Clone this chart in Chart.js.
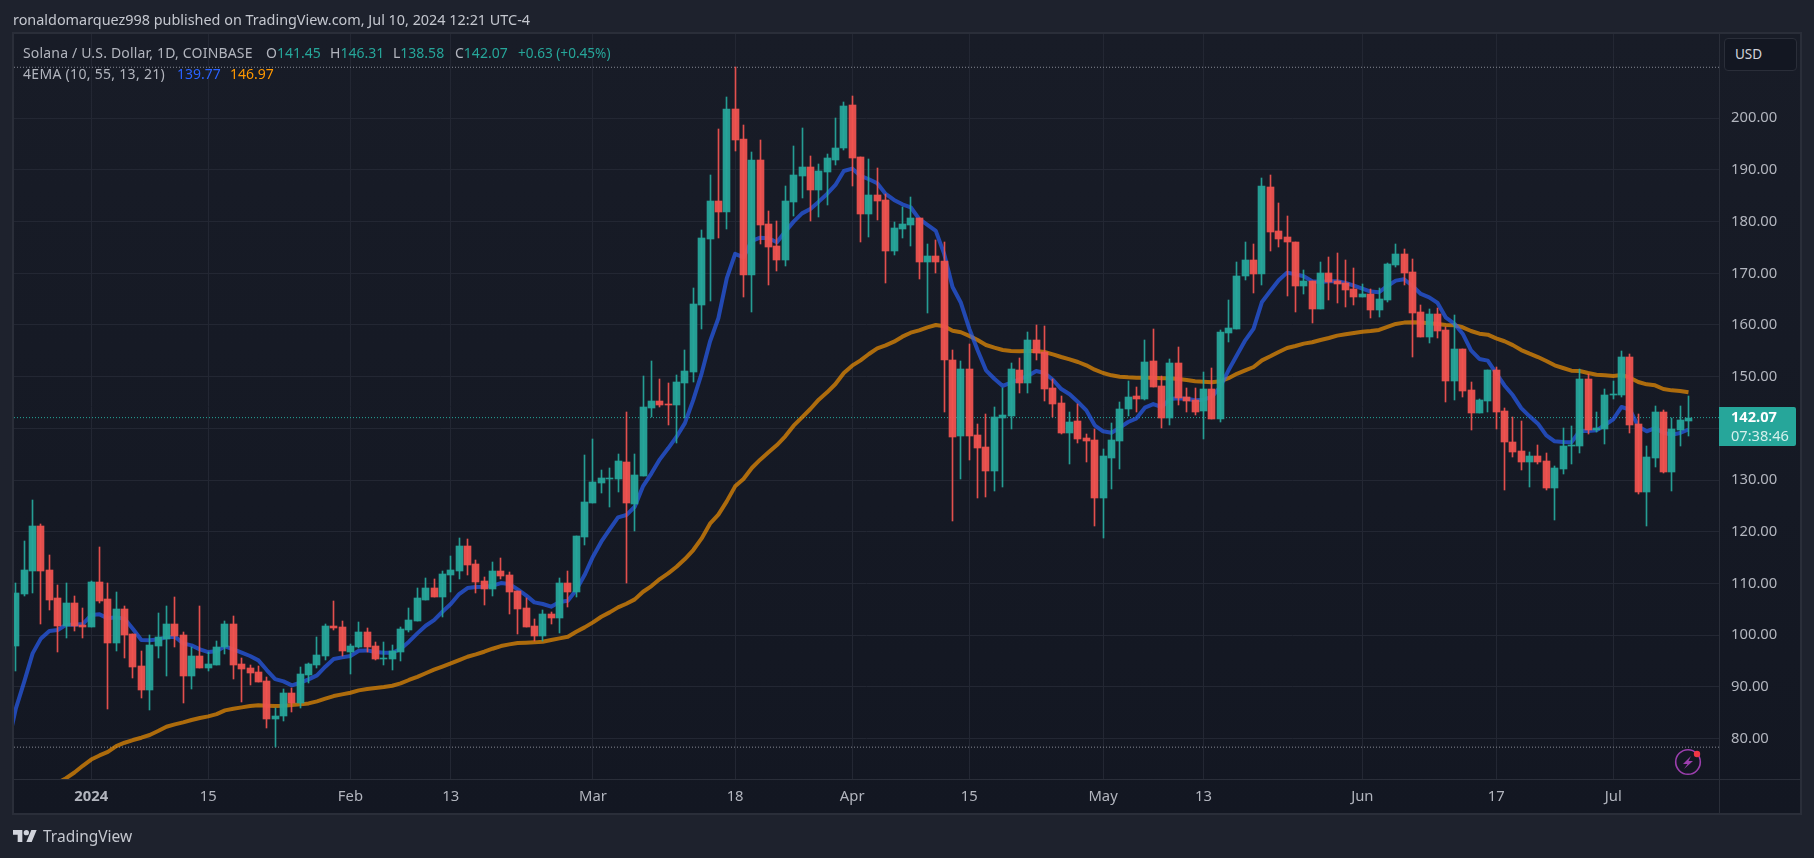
<!DOCTYPE html>
<html>
<head>
<meta charset="utf-8">
<title>Solana / U.S. Dollar</title>
<script src="https://cdn.jsdelivr.net/npm/chart.js@4"></script>
<style>
  html, body { margin: 0; padding: 0; width: 1814px; height: 858px; overflow: hidden; background: #1e222d; }
  body { position: relative; font-family: "Noto Sans", sans-serif; color: #b2b5be; }
  .pane { position: absolute; left: 12px; top: 32px; width: 1786px; height: 779px; border: 2px solid #2a2e39;
          background: linear-gradient(#181c27, #131722); }
  .sep-v { position: absolute; left: 1719px; top: 34px; width: 1px; height: 779px; background: #2a2e39; }
  .sep-h { position: absolute; left: 14px; top: 779px; width: 1786px; height: 1px; background: #2a2e39; }
  canvas { position: absolute; left: 0; top: 0; }
  .txt { position: absolute; white-space: nowrap; line-height: 18px; font-size: 13.5px; }
  .legend { font-size: 14px; }
  .up { color: #26a69a; }
  #published { left: 13px; top: 11px; color: #c4c7cf; font-size: 14.4px; }
  #usd { position: absolute; left: 1724px; top: 38px; width: 71px; height: 31px; border: 1px solid #2a2e39; border-radius: 4px;
         background: #131722; color: #d1d4dc; font-size: 13.5px; line-height: 31px; text-indent: 10px; }
  #price { position: absolute; left: 1719px; top: 407px; width: 77px; height: 39px; background: #26a69a; border-radius: 0 2px 2px 0;
           color: #fff; font-size: 14.6px; line-height: 18.7px; text-indent: 12px; }
  #price b { display: block; }
  #price span { display: block; color: #d4efec; }
  #logo { position: absolute; left: 13px; top: 830px; }
  #brand { left: 43px; top: 827px; font-size: 15.5px; color: #c4c7cf; }
  #bolt { position: absolute; left: 1672px; top: 746px; }
</style>
</head>
<body>
<div class="pane"></div>
<div class="sep-v"></div>
<div class="sep-h"></div>
<canvas id="chart" width="1814" height="858"></canvas>

<div class="txt" id="published">ronaldomarquez998 published on TradingView.com, Jul 10, 2024 12:21 UTC-4</div>
<div class="txt legend" style="left:23px;top:44px;letter-spacing:.18px">Solana / U.S. Dollar, 1D, COINBASE</div>
<div class="txt legend" style="left:266px;top:44px">O<span class="up">141.45</span></div>
<div class="txt legend" style="left:330px;top:44px">H<span class="up">146.31</span></div>
<div class="txt legend" style="left:393px;top:44px">L<span class="up">138.58</span></div>
<div class="txt legend" style="left:455px;top:44px">C<span class="up">142.07</span></div>
<div class="txt up" style="left:518px;top:44px;font-size:13.6px">+0.63 (+0.45%)</div>
<div class="txt legend" style="left:23px;top:65px;letter-spacing:.3px">4EMA (10, 55, 13, 21)</div>
<div class="txt legend" style="left:177px;top:65px;color:#2962ff">139.77</div>
<div class="txt legend" style="left:230px;top:65px;color:#ff9800">146.97</div>

<div id="usd">USD</div>
<div id="price"><b>142.07</b><span>07:38:46</span></div>

<svg id="bolt" width="32" height="32" viewBox="0 0 32 32">
  <circle cx="16" cy="16" r="12.3" fill="none" stroke="#9c3fae" stroke-width="1.6"/>
  <path d="M19 10 L11 18 L15.5 18 L12 23 L21 15 L16.5 15 Z" fill="#9c3fae"/>
  <circle cx="25" cy="8" r="3.2" fill="#f23645"/>
</svg>
<svg id="logo" width="24" height="12" viewBox="0 4 36 18">
  <path fill="#d1d4dc" d="M14 22H7V11H0V4h14v18zM28 22h-8l7.5-18h8L28 22z"/>
  <circle fill="#d1d4dc" cx="20" cy="8" r="4"/>
</svg>
<div class="txt" id="brand">TradingView</div>

<script>
// 数据: 每行10根K线, 第0根 = 2023-12-23, 最后一根 = 2024-07-10
const openVals = [
  97.94,107.94,112.39,121.1,112.58,107.16,101.74,106.19,101.94,101.55,
  110.26,106.97,98.45,105.03,100.26,94,89.35,97.87,99.23,102.13,
  100,92.06,95.94,93.61,94.19,97.68,102.13,94.39,93.61,92.84,
  91.1,83.74,84.32,88.77,86.84,92.26,94.19,95.94,101.74,101.55,
  96.71,97.68,100.58,97.87,95.35,95.35,96.71,100.96,102.71,106.77,
  109.09,107.35,111.61,112.38,117.22,113.74,110.45,108.9,112.38,111.61,
  108.51,105.22,101.74,99.8,104.06,103.29,110.06,108.32,118.96,125.54,
  129.42,130.19,130.19,133.48,125.35,130.77,143.94,145.29,144.71,144.52,
  148.77,150.9,163.87,176.65,184,181.87,201.81,196,169.68,191.94,
  179.55,175.29,172.58,183.81,188.84,190.58,186.13,189.61,191.94,194.26,
  202.58,192.52,181.49,185.16,184.19,174.32,178.58,179.36,180.71,172.19,
  173.36,172.32,153.16,138.45,151.42,138.65,136.32,131.68,141.94,142.32,
  151.23,148.71,157.03,154.71,147.74,144.84,139.03,141.35,138.06,137.68,
  126.45,134.19,137.48,143.68,146.19,145.61,152.97,148.13,141.94,152.58,
  146,145.42,143.29,147.55,141.74,158.39,159.16,169.42,172.52,169.81,
  186.65,178.13,176.97,176,167.49,168.46,163.04,170,168.46,168.07,
  166.91,165.36,165.94,162.84,164.78,171.55,173.68,170.2,162.46,157.62,
  162.07,158.97,149.1,155.29,147.36,142.91,145.23,151.23,143.29,137.29,
  135.55,133.42,134.58,133.61,128.38,132.06,136.51,136.51,149.48,139.61,
  139.81,146.38,146.38,153.74,140.77,127.61,134.19,143.1,131.48,139.61,
  141.45
];
const highVals = [
  110,118.19,126.13,121.48,115.48,109.68,110.06,107.55,105.23,110.45,
  117.03,110.06,108.32,105.61,100.26,96.9,100,104.26,105.61,107.35,
  100.58,97.68,105.61,96.71,98.84,102.71,103.68,95.55,94.19,94,
  91.87,85.9,89.55,89.74,93.81,94.58,99.61,102.13,106.58,102.71,
  98.2,102.52,101.35,98.65,98.65,98.06,101.55,105.16,109.09,111.03,
  110.84,112.38,115.29,118.77,118.58,114.51,111.22,114.12,114.9,112.19,
  108.51,107.16,103.09,104.83,104.45,111.03,112.38,119.16,134.83,137.93,
  131.93,132.32,135.03,143.16,135.03,150.13,153.03,149.55,148.77,150.32,
  155.16,167.16,178.39,189.03,197.94,204.13,209.87,198.71,193.48,195.81,
  182.07,180.13,186.9,194.65,198.13,192.71,191.16,193.1,200.07,203.16,
  204.32,192.52,192.13,190.39,185.36,179.94,182.84,184.78,180.71,175.68,
  176.45,176,155.1,152.97,156.26,140.77,142.71,144.06,147.74,152.58,
  153.55,158.58,159.94,159.74,149.48,146.19,143.1,144.65,138.84,139.81,
  135.94,140.97,145.03,149.1,147.94,157.03,159.16,150.06,153.35,155.68,
  147.74,147.74,150.84,151.61,158.97,164.77,172.13,176,175.62,188.39,
  188.97,183.55,181.04,176,170.59,168.46,172.13,173.1,173.88,172.52,
  170.97,167.88,166.91,167.1,171.94,175.62,174.65,172.72,163.81,163.04,
  163.23,159.55,161.88,155.29,148.91,145.62,151.23,151.81,143.88,142.13,
  141.35,135.35,136.71,135.16,132.65,140,140.39,151.42,150.45,143.1,
  147.55,149.1,154.9,154.32,142.71,136.51,144.26,143.48,141.93,144.26,
  146.31
];
const lowVals = [
  93.03,107.55,108.13,102.13,104.84,96.71,99.42,100.77,99.42,101.55,
  106.19,85.68,96.9,95.55,91.68,87.81,85.48,95.55,92.06,97.68,
  86.84,89.55,93.61,93.03,94.19,96.32,91.48,87.03,90.32,90.9,
  82,78.39,83.35,85.1,85.87,90.71,93.61,95.16,100.97,95.94,
  92.45,97.48,96.71,95.16,94.19,93.23,94.9,100.58,102.71,106.77,
  107.35,103.48,108.32,110.84,111.61,108.12,105.8,107.54,110.84,104.06,
  100.19,101.54,98.83,98.83,102.12,100.38,105.41,107.35,117.42,125.54,
  127.48,124.77,127.67,110.06,120.13,130.77,142.2,144.13,140.65,137.22,
  142,148.97,159.23,164.65,176.84,178.58,193.68,165.42,162.52,175.68,
  167.74,170.45,171.42,181.1,184.58,180.13,180.9,183.23,190.97,193.87,
  186.9,176.07,177.03,180.32,168.13,173.55,176.84,175.29,168.9,162.32,
  170.07,143.1,122,130.13,133.81,126.45,126.65,127.81,128.58,139.81,
  146.77,146.77,153.16,145.23,142.13,138.84,133.03,137.1,133.42,121.03,
  118.71,128.19,132.06,142.32,143.1,145.42,147.94,140,140.58,144.45,
  143.1,142.52,137.87,141.74,141.16,156.65,159.16,168.65,166.13,167.68,
  174.26,175.04,165.55,162.46,165.94,160.33,163.04,164.78,164.2,163.42,
  163.81,165.36,161.29,161.49,164.39,171.17,167.68,153.75,157.62,156.46,
  157.42,145.04,145.42,146,139.62,142.91,143.1,139.81,128,134.39,
  131.87,128.58,133.03,128,122.19,131.1,133.03,135.16,138.84,139.23,
  136.9,145.61,146,139.03,127.23,121.03,132.45,131.29,127.81,136.51,
  138.58
];
const closeVals = [
  108.13,112.58,121.1,112.39,106.77,101.74,106.19,101.74,101.55,110.26,
  106.58,98.45,105.03,100,93.81,89.35,98.06,99.61,102.13,99.81,
  92.06,95.94,93.61,94.39,97.68,102.13,94.19,93.42,92.65,90.9,
  83.74,84.32,88.77,86.84,92.45,94.39,96.13,101.74,101.35,96.9,
  97.87,100.58,97.68,95.35,95.55,96.9,101.16,102.9,107.16,109.09,
  107.35,111.8,112.58,117.22,113.54,110.25,108.9,112.38,111.42,108.32,
  105.03,101.54,99.8,104.06,103.29,110.06,108.32,119.16,125.74,129.61,
  130.38,130.38,133.67,125.54,130.96,144.13,145.29,144.52,144.52,148.97,
  151.1,164.07,176.84,184,181.87,201.81,195.81,169.68,191.94,179.36,
  175.1,172.58,184,189.03,190.58,186.13,189.81,192.32,194.26,202.39,
  192.32,181.49,185.16,184,174.32,178.78,179.55,180.71,172.19,173.36,
  172.19,153.16,138.26,151.42,138.45,136.13,131.68,142.13,142.52,151.42,
  148.71,157.03,154.52,147.55,144.65,139.03,141.16,137.87,137.48,126.45,
  134.58,137.68,143.68,146,145.61,152.77,147.94,141.94,152.58,145.81,
  145.23,143.1,147.55,141.74,158.58,159.35,169.42,172.52,169.81,186.84,
  177.94,176.58,176,167.49,168.46,163.04,170,168.26,167.88,166.71,
  165.36,165.94,162.84,164.97,171.75,173.68,170,162.26,157.62,162.07,
  158.78,149.1,155.29,147.17,142.91,145.42,151.23,143.1,137.29,135.35,
  133.42,134.58,133.42,128.38,132.26,136.51,136.71,149.48,139.61,140,
  146.38,146.58,153.74,140.58,127.61,134.39,143.1,131.48,139.81,141.55,
  142.07
];
const emaFast = [
  85.8,90.97,96.45,99.35,100.77,100.97,102,102,102.13,103.87,
  104,103.23,103.42,103.16,101.16,99.03,98.97,99.16,99.55,99.68,
  98.39,98,97.23,96.71,96.84,97.81,97.23,96.58,95.94,95.1,
  93.23,91.48,91.03,90.26,90.77,91.42,92.19,93.87,95.35,95.68,
  95.94,96.97,97.03,96.71,96.58,96.58,97.3,98.71,100.32,101.8,
  102.9,104.5,106,107.93,109.09,109.29,109.35,109.55,110.06,109.87,
  108.84,107.68,106.32,106,105.48,106.38,106.64,108.7,111.6,115.16,
  118.06,120.45,122.77,123.22,124.83,128.83,131.29,134,136.13,138.38,
  141,145.5,150.65,156.8,161.3,169,173.75,173.1,176.3,176.9,
  176.78,176,178.07,180,181.6,182.46,183.87,185.36,187.1,189.8,
  190.26,188.84,188.2,187.42,185.36,184.2,183.36,182.78,180.52,179.36,
  178.2,173.75,167.35,164.3,159.3,155.1,151.23,149.6,148.2,148.84,
  149.5,150.13,151.1,150.7,149.4,147.6,146.6,145.1,143.48,140.58,
  139.42,139.16,140.13,141.23,141.94,144,144.7,144.13,145.68,145.8,
  145.74,145.42,145.55,146.07,148,151.23,154.13,157.03,159.29,164.46,
  166.58,168.65,170.13,169.81,169.42,168.46,168.33,168.46,168.46,168.13,
  167.62,167.04,166.46,166.33,167.55,168.58,168.84,167.55,166,165.36,
  164.26,161.42,160.26,158.32,155.1,153.42,153.1,150.7,148.3,146.39,
  143.9,142.32,140.9,138.64,137.48,137.35,137.29,139.48,139.48,139.61,
  140.64,141.74,144.13,143.61,140.38,139.42,140.06,139.16,138.77,139.1,
  139.77
];
const emaSlow = [
  null,null,null,null,null,71.4,72.3,73.4,74.7,75.9,
  76.7,77.4,78.5,79.16,79.68,80.13,80.65,81.42,82.26,82.7,
  83.1,83.55,83.94,84.26,84.7,85.42,85.74,86,86.26,86.39,
  86.32,86.26,86.32,86.45,86.58,86.77,87.16,87.68,88.19,88.52,
  88.84,89.29,89.55,89.74,89.94,90.19,90.65,91.3,91.9,92.6,
  93.3,93.9,94.5,95.16,95.8,96.25,96.77,97.35,97.87,98.19,
  98.45,98.51,98.58,98.71,99.03,99.35,99.67,100.64,101.48,102.45,
  103.54,104.38,105.35,106.06,106.9,108.38,109.48,110.83,111.93,113.22,
  114.7,116.45,118.7,121.55,123.29,125.87,128.77,130.19,132.32,133.93,
  135.35,136.77,138.45,140.51,142.13,143.74,145.55,146.96,148.58,150.71,
  152.13,153.16,154.38,155.48,156.06,156.77,157.74,158.51,158.96,159.55,
  160,159.74,158.9,158.6,157.9,157.1,156.13,155.61,155.16,154.97,
  154.9,154.97,154.97,154.77,154.32,153.81,153.35,152.84,152.19,151.35,
  150.71,150.26,150,149.87,149.81,149.81,149.81,149.68,149.68,149.55,
  149.35,149.1,149.03,148.9,149.1,149.7,150.55,151.23,151.87,153.16,
  153.94,154.78,155.55,155.94,156.39,156.65,157.1,157.49,157.94,158.2,
  158.46,158.71,158.84,159.04,159.62,160.2,160.46,160.52,160.46,160.33,
  160.2,160,159.94,159.55,158.84,158.32,158.13,157.4,156.85,156.1,
  155.15,154.45,153.8,153.03,152.19,151.68,151.16,151.1,150.7,150.38,
  150.26,150.13,150.32,149.8,148.97,148.51,148.32,147.61,147.35,147.22,
  146.97
];
// 蓝线在第0根左边的一段
const emaFastBefore = { x: -1, y: 78.5 };

// 坐标轴刻度
const xTickIndex = [9, 23, 40, 52, 69, 86, 100, 114, 130, 142, 161, 177, 191];
const xTickLabels = ['2024', '15', 'Feb', '13', 'Mar', '18', 'Apr', '15', 'May', '13', 'Jun', '17', 'Jul'];
const yTickValues = [80, 90, 100, 110, 120, 130, 140, 150, 160, 170, 180, 190, 200];

// 价格线
const highestPrice = 209.87;
const lowestPrice = 78.3;
const lastPrice = 142.07;

const xMin = -0.227;
const xMax = 203.65;
const yMin = 72.14;
const yMax = 216.31;

const UP = 'rgba(38,166,154,0.94)';
const DOWN = 'rgba(239,83,80,0.94)';
const candleColors = closeVals.map((c, i) => (c >= openVals[i] ? UP : DOWN));

function priceLine(price, color) {
    return {
        type: 'line',
        data: [{ x: xMin, y: price }, { x: xMax, y: price }],
        borderColor: color,
        borderWidth: 1,
        borderDash: [1, 2],
        pointRadius: 0,
        order: 4
    };
}

function emaLine(points, color) {
    return {
        type: 'line',
        data: points,
        borderColor: color,
        borderWidth: 4,
        pointRadius: 0,
        tension: 0,
        borderJoinStyle: 'round',
        order: 3
    };
}

// K线对齐到整数像素, 否则1px的影线会发虚
const snapCandles = {
    id: 'snapCandles',
    afterDatasetsUpdate(chart) {
        chart.getSortedVisibleDatasetMetas().forEach(meta => {
            if (meta.type !== 'bar') return;
            meta.data.forEach(bar => {
                bar.x = Math.floor(bar.x) + 0.5;
                bar.y = Math.round(bar.y);
                bar.base = Math.round(bar.base);
            });
        });
    }
};

new Chart(document.getElementById('chart'), {
    type: 'bar',
    data: {
        datasets: [
            priceLine(highestPrice, '#868993'),
            priceLine(lowestPrice, '#868993'),
            priceLine(lastPrice, '#26a69a'),
            emaLine([emaFastBefore, ...emaFast.map((y, x) => ({ x, y }))], 'rgba(41,98,255,0.65)'),
            emaLine(emaSlow.map((y, x) => ({ x, y })), 'rgba(255,152,0,0.65)'),
            {
                data: lowVals.map((l, x) => ({ x, y: [l, highVals[x]] })),
                backgroundColor: candleColors,
                barThickness: 1,
                grouped: false,
                order: 2
            },
            {
                data: openVals.map((o, x) => ({ x, y: [o, closeVals[x]] })),
                backgroundColor: candleColors,
                barThickness: 7,
                minBarLength: 1,
                grouped: false,
                order: 1
            }
        ]
    },
    plugins: [snapCandles],
    options: {
        responsive: false,
        animation: false,
        layout: { padding: { left: 14, top: 34, right: 14, bottom: 45 } },
        plugins: { legend: { display: false }, tooltip: { enabled: false } },
        scales: {
            x: {
                type: 'linear',
                offset: false,
                min: xMin,
                max: xMax,
                afterBuildTicks(axis) { axis.ticks = xTickIndex.map(value => ({ value })); },
                afterFit(axis) { axis.height = 34; },
                grid: { color: '#232733', drawTicks: false, offset: false },
                border: { display: false },
                ticks: {
                    autoSkip: false,
                    maxRotation: 0,
                    padding: 9,
                    color: '#b2b5be',
                    font: ctx => ({
                        family: '"Noto Sans"',
                        size: 14.8,
                        weight: ctx.index === 0 ? 'bold' : 'normal'
                    }),
                    callback: (value, index) => xTickLabels[index]
                }
            },
            y: {
                position: 'right',
                min: yMin,
                max: yMax,
                afterBuildTicks(axis) { axis.ticks = yTickValues.map(value => ({ value })); },
                afterFit(axis) { axis.width = 81; },
                grid: { color: '#232733', drawTicks: false },
                border: { display: false },
                ticks: {
                    padding: 12,
                    color: '#b2b5be',
                    font: { family: '"Noto Sans"', size: 14.8 },
                    callback: value => value.toFixed(2)
                }
            }
        }
    }
});
</script>
</body>
</html>
